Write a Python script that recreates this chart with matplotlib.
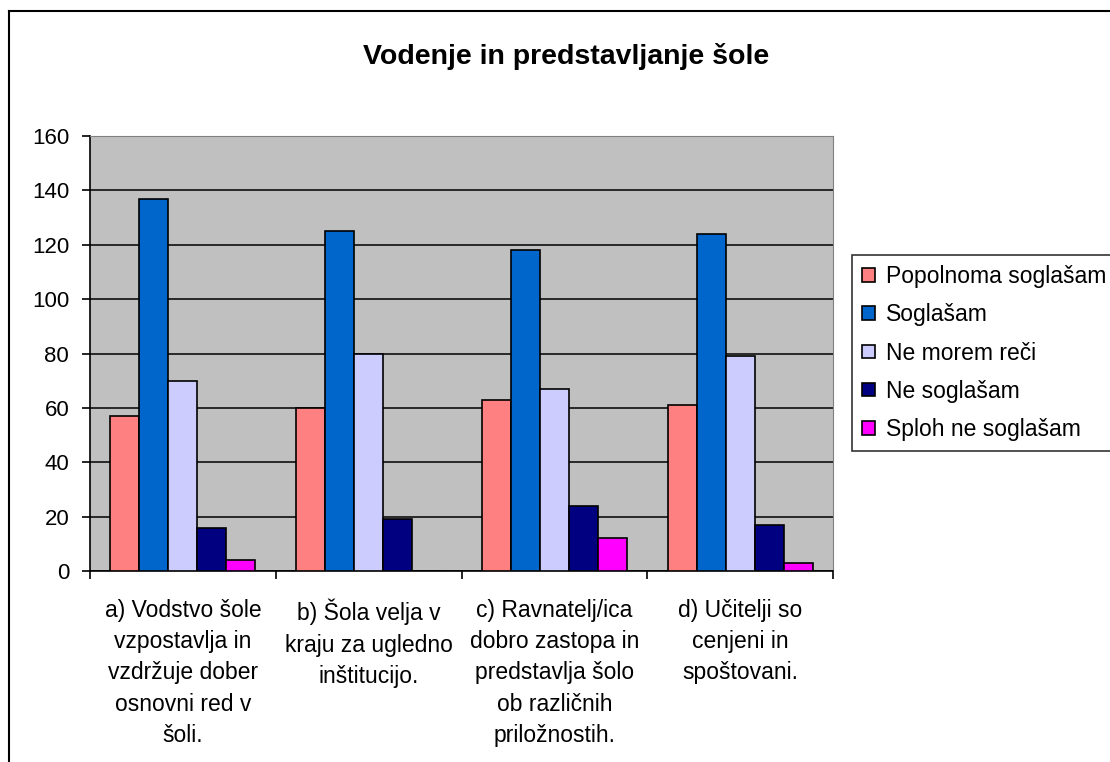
import matplotlib.pyplot as plt
import numpy as np
from matplotlib.lines import Line2D

plt.rcParams['font.family'] = ['Liberation Sans', 'DejaVu Sans']

# Podatki
kategorije = [
    "a) Vodstvo šole\nvzpostavlja in\nvzdržuje dober\nosnovni red v\nšoli.",
    "b) Šola velja v\nkraju za ugledno\ninštitucijo.",
    "c) Ravnatelj/ica\ndobro zastopa in\npredstavlja šolo\nob različnih\npriložnostih.",
    "d) Učitelji so\ncenjeni in\nspoštovani.",
]
serije = ["Popolnoma soglašam", "Soglašam", "Ne morem reči", "Ne soglašam", "Sploh ne soglašam"]
popolnoma = [57, 60, 63, 61]
soglasam = [137, 125, 118, 124]
ne_morem = [70, 80, 67, 79]
ne_soglasam = [16, 19, 24, 17]
sploh_ne = [4, 0, 12, 3]
barve = ["#FF8080", "#0066CC", "#CCCCFF", "#000080", "#FF00FF"]

vrednosti = [popolnoma, soglasam, ne_morem, ne_soglasam, sploh_ne]

fig = plt.figure(figsize=(11.1, 7.62), dpi=100)
ax = fig.add_axes([90 / 1110, 1 - 571 / 762, 743 / 1110, 435 / 762])
ax.set_facecolor("#C0C0C0")

x = np.arange(len(kategorije))
w = 0.156
for i, (ime, vals) in enumerate(zip(serije, vrednosti)):
    ax.bar(x + (i - 2) * w, vals, w, color=barve[i], edgecolor="black",
           linewidth=1.2, label=ime, zorder=3)

ax.set_xlim(-0.5, 3.5)
ax.set_ylim(0, 160)
ax.set_yticks(range(0, 161, 20))
ax.grid(axis="y", color="black", linewidth=1.1, zorder=1)
ax.tick_params(axis="y", direction="out", length=6, width=1.2, labelsize=16, pad=9)

ax.set_xticks(x)
ax.set_xticklabels(kategorije, fontsize=16.5, linespacing=1.46)
ax.tick_params(axis="x", which="major", length=0, pad=20)
ax.set_xticks(np.arange(-0.5, 3.6, 1), minor=True)
ax.tick_params(axis="x", which="minor", direction="out", length=6, width=1.2)

for s in ["top", "right"]:
    ax.spines[s].set_color("#808080")
for s in ["left", "bottom"]:
    ax.spines[s].set_color("black")
    ax.spines[s].set_linewidth(1.2)

fig.text(566 / 1110, 1 - 57 / 762, "Vodenje in predstavljanje šole",
         fontsize=20.5, fontweight="bold", ha="center", va="center")

leg = fig.legend(loc="upper left", bbox_to_anchor=(852 / 1110, 1 - 255 / 762),
                 fontsize=16.5, frameon=True, fancybox=False, edgecolor="black",
                 handlelength=0.55, handleheight=0.55, handletextpad=0.5,
                 labelspacing=0.66, borderpad=0.45, borderaxespad=0)
leg.get_frame().set_linewidth(1.2)

# okvir grafikona (levo in zgoraj)
fig.add_artist(Line2D([9 / 1110, 9 / 1110], [0, 1 - 11 / 762], color="black", linewidth=1.5))
fig.add_artist(Line2D([9 / 1110, 1], [1 - 11 / 762, 1 - 11 / 762], color="black", linewidth=1.5))

fig.savefig("out.png", dpi=100)
